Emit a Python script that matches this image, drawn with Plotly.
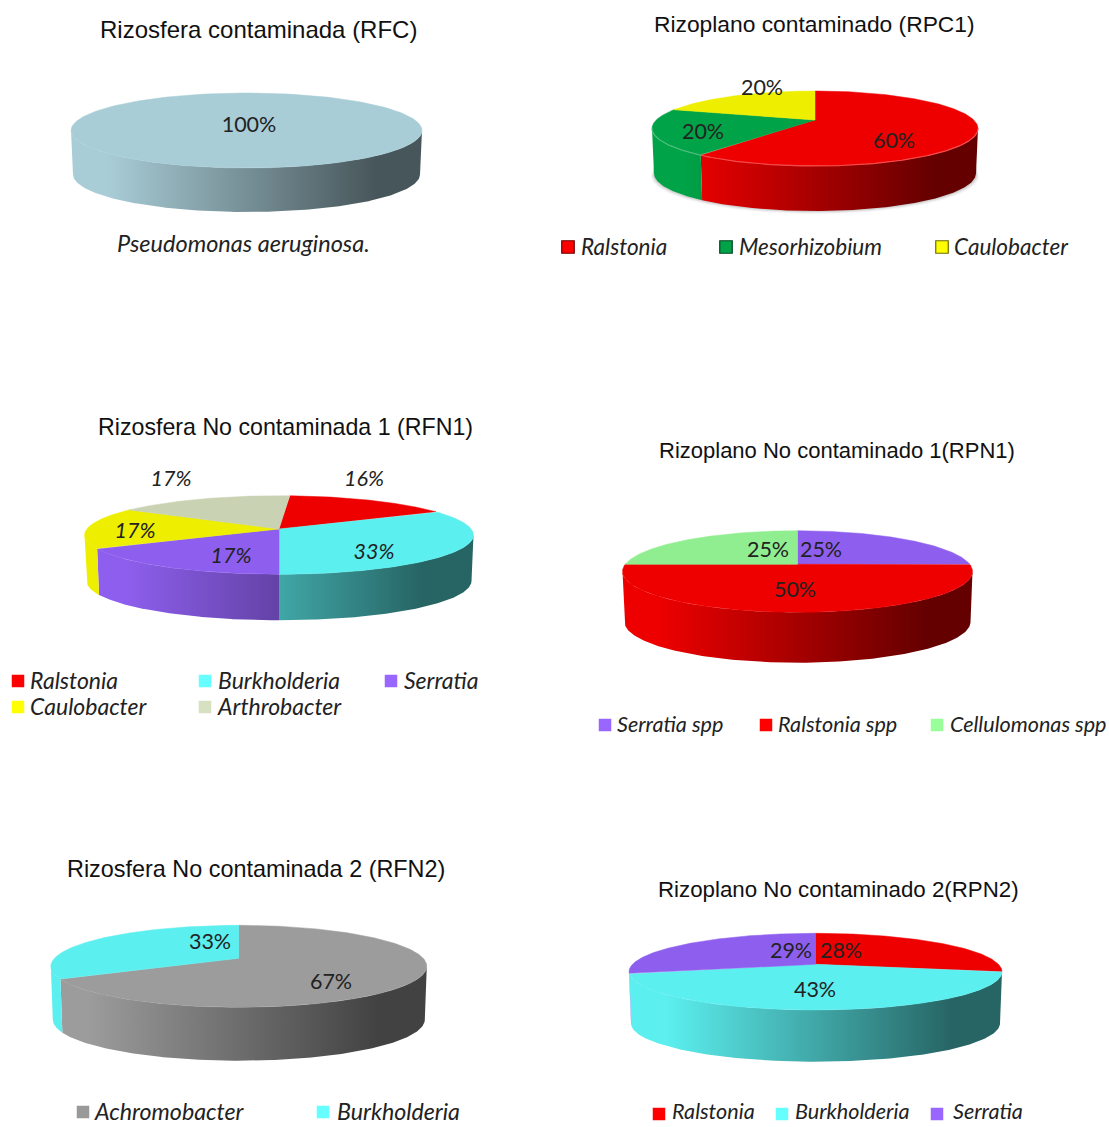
import numpy as np
import plotly.graph_objects as go

# Species shares for each sample (percent, clockwise from twelve o'clock)
rfc_species = ["Pseudomonas aeruginosa."]
rfc_values = [100]
rpc1_species = ["Ralstonia", "Mesorhizobium", "Caulobacter"]
rpc1_values = [60, 20, 20]
rfn1_species = ["Ralstonia", "Burkholderia", "Serratia", "Caulobacter", "Arthrobacter"]
rfn1_values = [16, 33, 17, 17, 17]
rpn1_species = ["Serratia spp", "Ralstonia spp", "Cellulomonas spp"]
rpn1_values = [25, 50, 25]
rfn2_species = ["Achromobacter", "Burkholderia"]
rfn2_values = [67, 33]
rpn2_species = ["Ralstonia", "Burkholderia", "Serratia"]
rpn2_values = [28, 43, 29]

titles = [
    "Rizosfera contaminada (RFC)",
    "Rizoplano contaminado (RPC1)",
    "Rizosfera No contaminada 1 (RFN1)",
    "Rizoplano No contaminado 1(RPN1)",
    "Rizosfera No contaminada 2 (RFN2)",
    "Rizoplano No contaminado 2(RPN2)",
]

# Face colour and legend swatch colour per genus
FACE = {
    "Pseudomonas aeruginosa.": "#A9CDD7", "Ralstonia": "#EE0000", "Ralstonia spp": "#EE0000",
    "Mesorhizobium": "#00A347", "Caulobacter": "#EEEE00", "Burkholderia": "#5CEFEF",
    "Serratia": "#8E5FEE", "Serratia spp": "#8E5FEE", "Arthrobacter": "#C9D2B2",
    "Cellulomonas spp": "#90EE90", "Achromobacter": "#9C9C9C",
}
SWATCH = {
    "Ralstonia": "#FF0000", "Ralstonia spp": "#FF0000", "Mesorhizobium": "#00A347",
    "Caulobacter": "#FFFF00", "Burkholderia": "#66FFFF", "Serratia": "#9966FF",
    "Serratia spp": "#9966FF", "Arthrobacter": "#D7E0C0", "Cellulomonas spp": "#99FF99",
    "Achromobacter": "#999999",
}

# Disc geometry: centre x, half width, apex y, rise above and below the apex, wall height
PANELS = [
    dict(species=rfc_species, values=rfc_values, title=titles[0], title_at=(258, 29), title_size=24,
         cx=246.5, rx=175.5, ay=130.5, rise=37.5, fall=37.5, wall=44, start=0,
         labels_at=[(249, 125)], italic=False, key_font=22,
         keys=[], caption_at=(243, 243)),
    dict(species=rpc1_species, values=rpc1_values, title=titles[1], title_at=(814, 24), title_size=22.8,
         cx=815, rx=163, ay=120, rise=29, fall=46, wall=45, start=0,
         labels_at=[(894, 141), (703, 132), (762, 88)], italic=False, key_font=22.5,
         keys=[(568, 581, 247), (726, 739, 247), (942, 954, 247)], key_rim=True, shadow=True, bevel=True),
    dict(species=rfn1_species, values=rfn1_values, title=titles[2], title_at=(285, 427), title_size=23.2,
         cx=279, rx=194.5, ay=529, rise=33.3, fall=45.3, wall=46, start=3.6,
         labels_at=[(364, 479), (374, 552), (231, 556), (135, 531), (171, 479)], italic=True, key_font=23,
         keys=[(18, 30, 681), (205, 218, 681), (391, 404, 681), (18, 30, 707), (205, 218, 707)]),
    dict(species=rpn1_species, values=rpn1_values, title=titles[3], title_at=(837, 450), title_size=22,
         cx=797.5, rx=175, ay=564.3, rise=33.6, fall=48, wall=50.4, start=0,
         labels_at=[(821, 550), (795, 590), (768, 550)], italic=False, key_font=21.6,
         keys=[(605, 617, 725), (766, 778, 725), (937, 950, 725)]),
    dict(species=rfn2_species, values=rfn2_values, title=titles[4], title_at=(256, 869), title_size=23.4,
         cx=238.8, rx=188, ay=958.3, rise=33, fall=49, wall=53.4, start=0,
         labels_at=[(331, 982), (210, 942)], italic=False, key_font=23.2,
         keys=[(83, 95, 1112), (323, 337, 1112)]),
    dict(species=rpn2_species, values=rpn2_values, title=titles[5], title_at=(838, 889), title_size=22.3,
         cx=815.5, rx=186.5, ay=964.3, rise=31, fall=45.7, wall=51.7, start=0,
         labels_at=[(841, 951), (815, 990), (791, 951)], italic=False, key_font=21.6,
         keys=[(659, 672, 1114), (782, 795, 1114), (937, 953, 1114)]),
]

INK = "#222222"
LABEL_FONT = "Lato"
LABEL_SIZE = 21.5
TEXT_DROP = 2
DARKEN = 0.42


def rim(p, theta):
    """Project angles on the disc rim through the perspective of the tilted disc."""
    k = (p["fall"] - p["rise"]) / (p["fall"] + p["rise"])
    a = p["rise"] * (1 + k)
    b = p["rx"] * np.sqrt(1 - k * k)
    s, c = np.sin(theta), np.cos(theta)
    return p["cx"] + b * s / (1 + k * c), p["ay"] - a * c / (1 + k * c)


def front_arc(p):
    """Angles of the rightmost and leftmost rim points; the wall shows between them."""
    k = (p["fall"] - p["rise"]) / (p["fall"] + p["rise"])
    right = np.arccos(-k)
    return right, 2 * np.pi - right


def shade(hex_colour):
    r, g, b = (int(hex_colour[i:i + 2], 16) for i in (1, 3, 5))
    return f"rgb({r * DARKEN:.0f},{g * DARKEN:.0f},{b * DARKEN:.0f})"


def lighten(hex_colour, amount=0.3):
    r, g, b = (int(hex_colour[i:i + 2], 16) for i in (1, 3, 5))
    return "rgb({:.0f},{:.0f},{:.0f})".format(*(v + (255 - v) * amount for v in (r, g, b)))


fig = go.Figure()

for p in PANELS:
    total = sum(p["values"])
    edges = np.radians(p["start"]) + np.concatenate([[0], np.cumsum(p["values"])]) / total * 2 * np.pi
    spans = list(zip(edges[:-1], edges[1:], p["species"]))
    arc_r, arc_l = front_arc(p)
    narrow = (p["rx"] - 2) / p["rx"]

    # Soft shadow under the disc
    if p.get("shadow"):
        theta = np.linspace(arc_r, arc_l, 200)
        x, y = rim(p, theta)
        xb = p["cx"] + (x - p["cx"]) * narrow
        for grow, alpha in ((3, 0.05), (2, 0.08), (1, 0.12)):
            fig.add_trace(go.Scatter(
                x=np.concatenate([xb + np.sin(theta) * grow, xb[::-1]]),
                y=np.concatenate([y + p["wall"] + grow, (y + p["wall"] - 8)[::-1]]),
                mode="lines", line=dict(width=0), fill="toself",
                fillcolor=f"rgba(60,60,60,{alpha})", hoverinfo="skip",
            ))

    # Side walls: only the part of each slice on the near side of the disc
    for t0, t1, name in spans:
        lo, hi = max(t0, arc_r), min(t1, arc_l)
        if hi <= lo:
            continue
        theta = np.linspace(lo, hi, 160)
        x, y = rim(p, theta)
        xb = p["cx"] + (x - p["cx"]) * narrow
        yb = y + p["wall"]
        face = FACE[name]
        fig.add_trace(go.Scatter(
            x=np.concatenate([x, xb[::-1]]), y=np.concatenate([y, yb[::-1]]),
            mode="lines", line=dict(width=0), fill="toself", hoverinfo="skip",
            fillgradient=dict(
                type="horizontal",
                colorscale=[[0, face], [0.1, face], [0.87, shade(face)], [1, shade(face)]],
                start=p["cx"] - p["rx"], stop=p["cx"] + p["rx"],
            ),
        ))

    # Top faces
    for t0, t1, name in spans:
        theta = np.linspace(t0, t1, 240)
        x, y = rim(p, theta)
        fig.add_trace(go.Scatter(
            x=np.concatenate([[p["cx"]], x, [p["cx"]]]), y=np.concatenate([[p["ay"]], y, [p["ay"]]]),
            mode="lines", line=dict(width=0.5, color=FACE[name]), fill="toself",
            fillcolor=FACE[name], hoverinfo="skip",
        ))

    # Thin highlight along the near edge of a bevelled disc
    if p.get("bevel"):
        for t0, t1, name in spans:
            lo, hi = max(t0, arc_r), min(t1, arc_l)
            if hi <= lo:
                continue
            x, y = rim(p, np.linspace(lo, hi, 160))
            fig.add_trace(go.Scatter(x=x, y=y, mode="lines", hoverinfo="skip",
                                     line=dict(width=1.2, color=lighten(FACE[name]))))

    # Percentage labels
    fig.add_trace(go.Scatter(
        x=[q[0] for q in p["labels_at"]], y=[q[1] + TEXT_DROP for q in p["labels_at"]],
        text=[f"{v}%" for v in p["values"]], mode="text", textposition="middle center",
        textfont=dict(family=LABEL_FONT, size=LABEL_SIZE, color=INK,
                      style="italic" if p["italic"] else "normal"),
        hoverinfo="skip",
    ))

    # Panel title
    fig.add_annotation(x=p["title_at"][0], y=p["title_at"][1], text=p["title"], showarrow=False,
                       xanchor="center", yanchor="middle",
                       font=dict(family="Liberation Sans", size=p["title_size"], color="#111111"))

    # Legend keys and names
    for (kx, tx, ky), name in zip(p["keys"], p["species"]):
        fig.add_trace(go.Scatter(
            x=[kx], y=[ky], mode="markers", hoverinfo="skip",
            marker=dict(symbol="square", size=12.5, color=SWATCH[name],
                        line=dict(width=1.2 if p.get("key_rim") else 0, color=shade(SWATCH[name]))),
        ))
        fig.add_trace(go.Scatter(
            x=[tx], y=[ky + (TEXT_DROP if ky < 1114 else 0)], text=[name], mode="text",
            textposition="middle right", hoverinfo="skip",
            textfont=dict(family=LABEL_FONT, size=p["key_font"], color=INK, style="italic"),
        ))

    if "caption_at" in p:
        fig.add_annotation(x=p["caption_at"][0], y=p["caption_at"][1], text=p["species"][0],
                           showarrow=False, xanchor="center", yanchor="middle",
                           font=dict(family=LABEL_FONT, size=23.5, color=INK, style="italic"))

fig.update_layout(
    width=1109, height=1127, autosize=False, showlegend=False,
    margin=dict(l=0, r=0, t=0, b=0), paper_bgcolor="white", plot_bgcolor="white",
    xaxis=dict(range=[0, 1109], visible=False, fixedrange=True),
    yaxis=dict(range=[1127, 0], visible=False, fixedrange=True),
)
fig.write_html("out.html", config=dict(displayModeBar=False))
